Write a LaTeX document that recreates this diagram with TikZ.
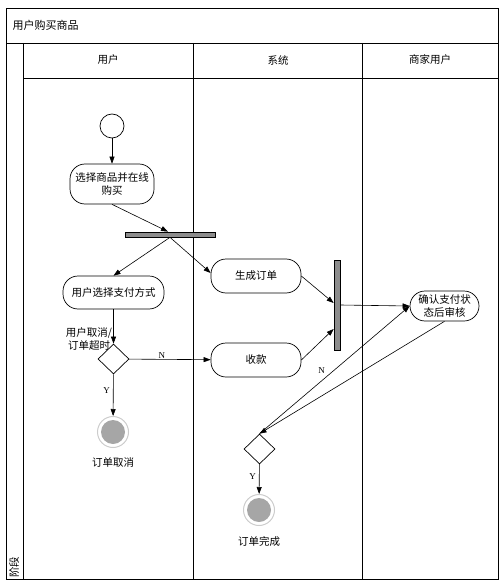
\documentclass[tikz,border=0pt]{standalone}
\usepackage{fontspec}
\setmainfont{Noto Sans CJK SC}
\newfontfamily\serifL{Liberation Serif}
\usetikzlibrary{arrows.meta,shapes.geometric}
\begin{document}
\begin{tikzpicture}[x=1pt,y=-1pt,
  font=\fontsize{10.5}{13}\selectfont,
  grid/.style={draw=black,line width=0.9pt},
  act/.style={draw,line width=0.7pt,rectangle,rounded corners=15pt,align=center,inner sep=1pt},
  arr/.style={line width=0.6pt,-{Triangle[length=7pt,width=5pt]}},
  bar/.style={draw,fill=gray!90,line width=0.7pt,inner sep=0pt},
  dec/.style={diamond,draw,line width=0.7pt,minimum width=31pt,minimum height=30pt,inner sep=0pt},
  startn/.style={circle,draw,line width=0.7pt,minimum size=24pt,inner sep=0pt},
  endn/.style={circle,draw=gray!40,line width=1pt,minimum size=31pt,inner sep=0pt,
    path picture={\fill[gray!70] (path picture bounding box.center) circle (12pt);}},
  lbl/.style={font=\serifL\fontsize{9}{10}\selectfont,inner sep=0pt}
]
\useasboundingbox (0,0) rectangle (503,585);
% swimlanes
\draw[grid] (6,8) rectangle (498,579);
\draw[grid] (6,43) -- (498,43);
\draw[grid] (23,43) -- (23,579);
\draw[grid] (23,78) -- (498,78);
\draw[grid] (193,43) -- (193,579);
\draw[grid] (362,43) -- (362,579);
\node[anchor=west,font=\fontsize{11}{12}\selectfont] (title) at (9,25) {用户购买商品};
\node (h1) at (108,60) {用户};
\node (h2) at (278,60) {系统};
\node (h3) at (430,60) {商家用户};
\node[rotate=90] (stage) at (14,567) {阶段};
% nodes
\node[startn] (start) at (112,126) {};
\node[act,minimum width=84pt,minimum height=40pt,text width=82pt] (sel) at (112,184) {选择商品并在线\\购买};
\node[bar,minimum width=90pt,minimum height=5pt] (fork) at (170,234.5) {};
\node[act,minimum width=101pt,minimum height=33pt] (pay) at (113.5,292.5) {用户选择支付方式};
\node[dec] (d1) at (113.5,359) {};
\node[align=center] (d1lbl) at (89,339) {用户取消/\\订单超时};
\node[endn] (end1) at (113,432) {};
\node (end1lbl) at (113,462) {订单取消};
\node[act,minimum width=90pt,minimum height=34pt] (gen) at (256,276) {生成订单};
\node[act,minimum width=90pt,minimum height=34pt] (coll) at (256,360) {收款};
\node[bar,minimum width=6pt,minimum height=90pt] (join) at (337,305) {};
\node[act,minimum width=69pt,minimum height=30pt,text width=67pt] (conf) at (444.5,306) {确认支付状\\态后审核};
\node[dec] (d2) at (259.5,449) {};
\node[endn] (end2) at (259,510) {};
\node (end2lbl) at (259,541) {订单完成};
% connectors
\draw[arr] (start) -- (sel);
\draw[arr] (sel.south) -- ([xshift=-2pt]fork.north);
\draw[arr] (fork.south) -- (pay.north);
\draw[arr] (fork.south) -- ([yshift=3pt]gen.west);
\draw[arr] (pay) -- (d1);
\draw[arr] (d1) -- node[lbl,above=1pt,pos=0.4] (nlbl) {N} (coll);
\draw[arr] (d1) -- node[lbl,left=3pt,pos=0.4] (ylbl) {Y} (end1);
\draw[arr] (gen.east) -- ([yshift=2pt]join.west);
\draw[arr] (coll.east) -- ([yshift=-24pt]join.west);
\draw[arr] (join.east) -- (conf.west);
\draw[arr] (conf.south) -- (d2.north);
\draw[arr] (d2.north) -- node[lbl,pos=0.45,above left=2pt] (nlbl2) {N} (conf.west);
\draw[arr] (d2) -- node[lbl,left=3pt,pos=0.4] (ylbl2) {Y} (end2);
\end{tikzpicture}
\end{document}
